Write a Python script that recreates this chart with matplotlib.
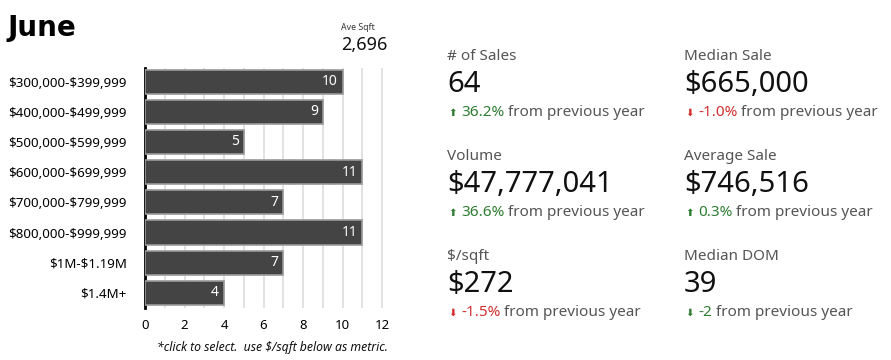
import matplotlib
matplotlib.use("Agg")
import matplotlib.pyplot as plt

categories = ["$300,000-$399,999", "$400,000-$499,999", "$500,000-$599,999",
              "$600,000-$699,999", "$700,000-$799,999", "$800,000-$999,999",
              "$1M-$1.19M", "$1.4M+"]
counts = [10, 9, 5, 11, 7, 11, 7, 4]
xticks = [0, 2, 4, 6, 8, 10, 12]

ave_sqft = "2,696"
kpi_labels = ["# of Sales", "Median Sale", "Volume", "Average Sale", "$/sqft", "Median DOM"]
kpi_values = ["64", "$665,000", "$47,777,041", "$746,516", "$272", "39"]
kpi_changes = ["36.2%", "-1.0%", "36.6%", "0.3%", "-1.5%", "-2"]
kpi_up = [True, False, True, True, False, False]
kpi_good = [True, False, True, True, False, True]

FONT = ["Noto Sans", "DejaVu Sans"]
plt.rcParams['font.family'] = FONT
plt.rcParams['text.parse_math'] = False

W, H = 891, 360
fig = plt.figure(figsize=(W / 100, H / 100), dpi=100)

def px(x, y):
    return x / W, 1 - y / H

# bar axes
ax_l, ax_r, ax_t, ax_b = 145, 386, 68, 308
ax = fig.add_axes([ax_l / W, 1 - ax_b / H, (ax_r - ax_l) / W, (ax_b - ax_t) / H])
ypos = list(range(len(categories)))
ax.barh(ypos, counts, height=0.8, color="#444444", edgecolor="#9a9a9a", linewidth=1.2, zorder=3)
for y, v in zip(ypos, counts):
    ax.text(v - 0.25, y, str(v), color="white", ha="right", va="center", fontsize=10, zorder=4)
ax.set_ylim(len(categories) - 0.5, -0.45)
ax.set_xlim(0, 12.2)
ax.set_yticks(ypos)
ax.set_yticklabels(categories, fontsize=9.6)
ax.set_xticks(xticks)
ax.set_xticklabels([str(t) for t in xticks], fontsize=9.5)
ax.set_xticks(range(0, 13), minor=True)
ax.grid(axis="x", which="both", color="#dddddd", linewidth=1.2, zorder=0)
ax.tick_params(axis="both", which="both", length=0)
ax.tick_params(axis="y", pad=13)
ax.tick_params(axis="x", pad=8)
for s in ["top", "right", "bottom"]:
    ax.spines[s].set_visible(False)
ax.spines["left"].set_linewidth(2)
ax.spines["left"].set_color("black")

# title
fig.text(*px(7, 28), "June", fontsize=20, fontweight="bold", va="center", ha="left",
         family=["DejaVu Sans"])
fig.text(*px(341, 28), "Ave Sqft", fontsize=6.3, va="center", ha="left", color="#333333")
fig.text(*px(341, 45), ave_sqft, fontsize=13, va="center", ha="left", color="#111111")

fig.text(*px(388, 348), "*click to select.  use $/sqft below as metric.", fontsize=8.8,
         style="italic", ha="right", va="center", color="#111111")

GREEN = "#2e7d32"
RED = "#d32f2f"
GREY = "#555555"
cols = [447, 684]
rows = [57, 157, 257]
for i in range(6):
    x = cols[i % 2]
    y0 = rows[i // 2]
    fig.text(*px(x, y0), kpi_labels[i], fontsize=11, color=GREY, va="center", ha="left")
    fig.text(*px(x, y0 + 27), kpi_values[i], fontsize=21, color="#111111", va="center", ha="left")
    col = GREEN if kpi_good[i] else RED
    arrow = "⬆" if kpi_up[i] else "⬇"
    fig.text(*px(x + 1, y0 + 56), arrow, fontsize=7.5, color=col, va="center", ha="left",
             family=["DejaVu Sans"])
    t2 = fig.text(*px(x + 14, y0 + 55), kpi_changes[i], fontsize=11, color=col,
                  va="center", ha="left")
    fig.canvas.draw()
    bb = t2.get_window_extent()
    fig.text(bb.x1 / W + 4 / W, 1 - (y0 + 55) / H, "from previous year", fontsize=11, color=GREY,
             va="center", ha="left")

fig.savefig("out.png", dpi=100)
